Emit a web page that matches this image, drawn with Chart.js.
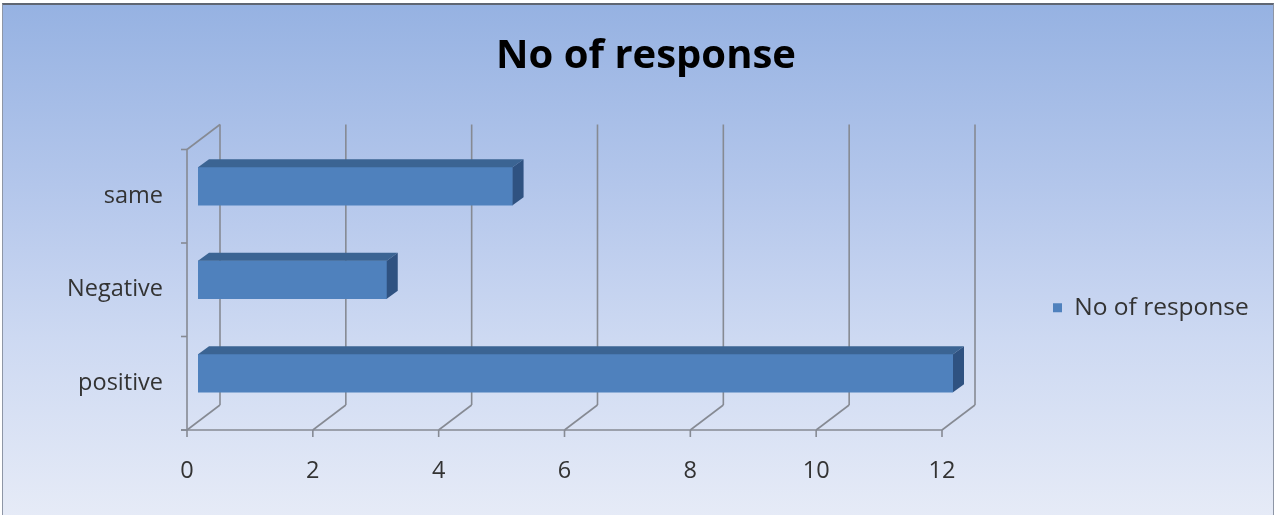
<!doctype html>
<html lang="en">
<head>
	<meta charset="utf-8">
	<title>No of response</title>
	<style>
		body { margin: 0; background: #fff; }
		#frame {
			position: absolute; left: 2px; top: 3px; width: 1270px; height: 512px;
			border-top: 2px solid #5f6672; border-left: 1px solid #8e96a6; border-right: 1px solid #8e96a6;
			background: linear-gradient(to bottom, #96b2e2 0%, #b3c6eb 35%, #cdd9f2 65%, #e6ebf7 100%);
		}
		#myChart { position: absolute; left: 0; top: 0; }
	</style>
</head>

<body>
	<script src="https://cdn.jsdelivr.net/npm/chart.js@4/dist/chart.umd.min.js"></script>

	<div id="frame"></div>
	<canvas id="myChart" width="1277" height="515"></canvas>

	<script>

		var categories = ["same", "Negative", "positive"];
		var responses = [5, 3, 12];
		var seriesName = "No of response";
		var xTicks = [0, 2, 4, 6, 8, 10, 12];

		var fontFamily = "'Open Sans', 'Liberation Sans', sans-serif";
		var tickSize = 23.5;
		var legendSize = 24.5;
		var barColor = "#4f81bd";
		var barTop = "#3b6493";
		var barSide = "#2f5281";
		var wallColor = "#868a93";

		// offsets of the front plane, back wall and bar depth from the bar plane
		var front = { dx: -11, dy: 10 };
		var back = { dx: 22, dy: -15 };
		var depth = { dx: 11, dy: -8 };

		// legend sits right of the plot; work out how wide it will be so the plot ends where it should
		var legendPad = 100, legendBox = 9, plotLeft = 198, plotRight = 953, titleCentre = 646;
		var measure = document.createElement('canvas').getContext('2d');
		measure.font = legendSize + "px " + fontFamily;
		var legendWidth = legendPad + legendBox + legendSize / 2 + measure.measureText(seriesName).width + 10;
		var padRight = Math.max(0, 1277 - plotRight - legendWidth);
		var padLeft = Math.max(0, 2 * titleCentre - 1277 + padRight);

		function line(ctx, x1, y1, x2, y2) {
			ctx.beginPath();
			ctx.moveTo(x1, y1);
			ctx.lineTo(x2, y2);
			ctx.stroke();
		}

		function poly(ctx, pts) {
			ctx.beginPath();
			ctx.moveTo(pts[0][0], pts[0][1]);
			for (var i = 1; i < pts.length; i++) ctx.lineTo(pts[i][0], pts[i][1]);
			ctx.closePath();
			ctx.fill();
		}

		var walls = {
			id: 'walls',
			beforeDatasetsDraw: function(chart) {
				var ctx = chart.ctx, a = chart.chartArea, x = chart.scales.x, y = chart.scales.y;
				ctx.save();
				ctx.strokeStyle = wallColor;
				ctx.lineWidth = 1.6;
				x.ticks.forEach(function(t, i) {
					var px = x.getPixelForTick(i);
					line(ctx, px + back.dx, a.top + back.dy, px + back.dx, a.bottom + back.dy);
					line(ctx, px + front.dx, a.bottom + front.dy, px + back.dx, a.bottom + back.dy);
					line(ctx, px + front.dx, a.bottom + front.dy, px + front.dx, a.bottom + front.dy + 7);
				});
				// front axes
				line(ctx, a.left + front.dx - 6, a.bottom + front.dy, a.right + front.dx, a.bottom + front.dy);
				line(ctx, a.left + front.dx, a.top + front.dy, a.left + front.dx, a.bottom + front.dy);
				line(ctx, a.left + front.dx, a.top + front.dy, a.left + back.dx, a.top + back.dy);
				for (var i = 0; i <= categories.length; i++) {
					var py = y.getPixelForValue(i - 0.5) + front.dy;
					line(ctx, a.left + front.dx - 6, py, a.left + front.dx, py);
				}
				ctx.restore();
			},
			afterDatasetsDraw: function(chart) {
				var ctx = chart.ctx;
				ctx.save();
				chart.getDatasetMeta(0).data.forEach(function(bar) {
					var p = bar.getProps(['x', 'y', 'base', 'height'], true);
					var t = p.y - p.height / 2, b = p.y + p.height / 2;
					ctx.fillStyle = barTop;
					poly(ctx, [[p.base, t], [p.x, t], [p.x + depth.dx, t + depth.dy], [p.base + depth.dx, t + depth.dy]]);
					ctx.fillStyle = barSide;
					poly(ctx, [[p.x, t], [p.x + depth.dx, t + depth.dy], [p.x + depth.dx, b + depth.dy], [p.x, b]]);
				});
				ctx.restore();
			}
		};

		var ctx = document.getElementById("myChart");
		var myChart = new Chart(ctx, {
			type: 'bar',
			data: {
				labels: categories,
				datasets: [{
					label: seriesName,
					data: responses,
					backgroundColor: barColor,
					borderColor: barColor,
					borderWidth: 0,
					barThickness: 38
				}]
			},
			options: {
				indexAxis: 'y',
				responsive: false,
				animation: false,
				layout: { padding: { top: 0, right: padRight, bottom: 0, left: padLeft } },
				scales: {
					x: {
						min: 0,
						max: 12,
						afterBuildTicks: function(s) { s.ticks = xTicks.map(function(v) { return { value: v }; }); },
						afterFit: function(s) { s.height = 95; },
						grid: { display: false, drawTicks: false },
						border: { display: false },
						ticks: { color: '#333', padding: 37, labelOffset: front.dx, font: { family: fontFamily, size: tickSize } }
					},
					y: {
						afterFit: function(s) { s.width = plotLeft - padLeft; },
						grid: { display: false, drawTicks: false },
						border: { display: false },
						ticks: { color: '#333', padding: 35, labelOffset: front.dy, font: { family: fontFamily, size: tickSize } }
					}
				},
				plugins: {
					title: {
						display: true,
						text: 'No of response',
						color: '#000',
						font: { family: fontFamily, size: 40, weight: 'bold' },
						padding: { top: 33, bottom: 58.5 }
					},
					legend: {
						position: 'right',
						fullSize: false,
						align: 'end',
						labels: {
							boxWidth: legendBox,
							boxHeight: legendBox,
							padding: legendPad,
							color: '#333',
							font: { family: fontFamily, size: legendSize }
						}
					},
					tooltip: { enabled: false }
				}
			},
			plugins: [walls]
		});
	</script>
</body>
</html>
